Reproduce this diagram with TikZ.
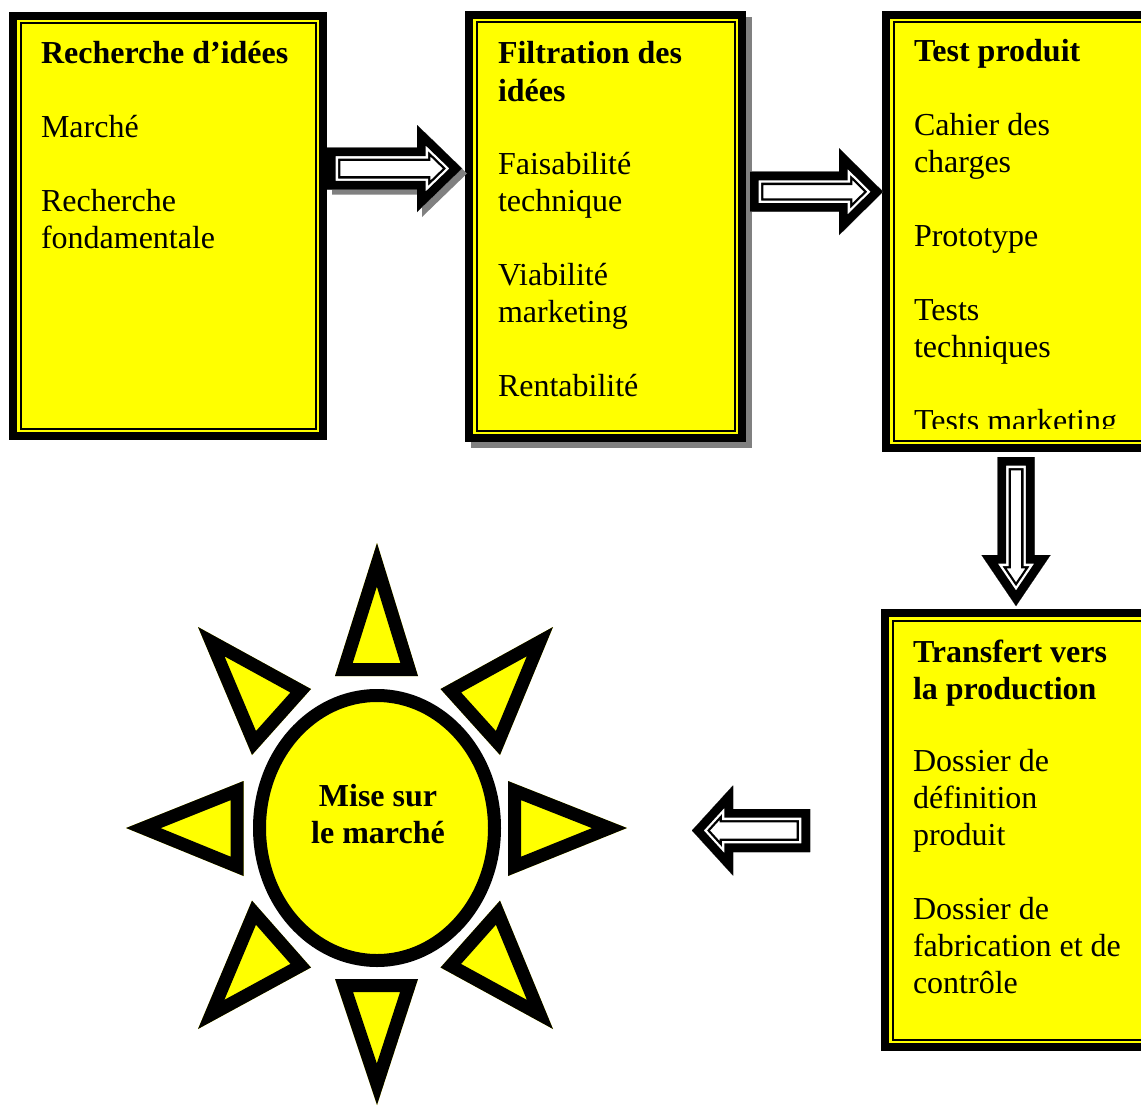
\documentclass[tikz,border=0pt]{standalone}
\usepackage{fontspec}
\setmainfont{Liberation Serif}
\usetikzlibrary{shapes.geometric}
\definecolor{shadowgray}{RGB}{128,128,128}
\definecolor{sunyellow}{RGB}{255,255,0}
% block arrow: black band, white gap, thin black line, white inside
\newcommand\blockarrow[1]{%
  \fill[black] #1;
  \begin{scope}
    \clip #1;
    \fill[white] #1;
    \draw[line width=26.6, line join=miter, black] #1;
    \draw[line width=22, line join=miter, white] #1;
    \draw[line width=17.4, line join=miter, black] #1;
  \end{scope}}
% sun ray: yellow triangle with a thick inner black outline
\newcommand\sunray[1]{%
  \fill[sunyellow] #1;
  \begin{scope}
    \clip #1;
    \draw[line width=26, line join=miter, miter limit=20, black] #1;
  \end{scope}}
% framed yellow box: name, x, y (top left), width, height
\newcommand\yframe[5]{%
  \node[frame, minimum width=#4, minimum height=#5] (#1) at (#2,#3) {};
  \fill[sunyellow] ([shift={(8,8)}]#1.north west) rectangle ([shift={(-8,-8)}]#1.south east);
  \draw[line width=2] ([shift={(11.5,11.5)}]#1.north west) rectangle ([shift={(-11.5,-11.5)}]#1.south east);}
\begin{document}
\begin{tikzpicture}[x=1pt,y=-1pt,
  frame/.style={fill=black, draw=none, inner sep=0, outer sep=0, anchor=north west},
  txt/.style={font=\fontsize{32}{37}\selectfont, anchor=base west, inner sep=0, outer sep=0},
  suntxt/.style={font=\fontsize{32}{37}\selectfont\bfseries, anchor=base, inner sep=0, outer sep=0}]
\clip (0,0) rectangle (1141,1108);
\fill[white] (0,0) rectangle (1141,1108);

% ---------- boxes ----------
\yframe{b1}{9}{12}{318}{428}
\fill[shadowgray] (471,17) rectangle (752,448);
\yframe{b2}{465}{11}{281}{431}
\yframe{b3}{882}{11}{280}{441}
\yframe{b4}{881}{609}{280}{442}

% ---------- box texts ----------
\foreach \y/\t [count=\i] in {64/{\textbf{Recherche d’idées}},137/Marché,211/Recherche,248/fondamentale}
  \node[txt] (ta\i) at (41,\y) {\t};
\foreach \y/\t [count=\i] in {64/{\textbf{Filtration des}},101/{\textbf{idées}},174/Faisabilité,211/technique,285/Viabilité,322/marketing,396/Rentabilité}
  \node[txt] (tb\i) at (498,\y) {\t};
\begin{scope}
  \clip (882,11) rectangle (1141,428);
  \foreach \y/\t [count=\i] in {62/{\textbf{Test produit}},135/Cahier des,172/charges,246/Prototype,320/Tests,357/techniques,431/Tests marketing}
    \node[txt] (tc\i) at (914,\y) {\t};
\end{scope}
\foreach \y/\t [count=\i] in {662/{\textbf{Transfert vers}},699/{\textbf{la production}},771/Dossier de,808/définition,845/produit,919/Dossier de,956/fabrication et de,993/contrôle}
  \node[txt] (td\i) at (913,\y) {\t};

% ---------- block arrows ----------
\fill[shadowgray] (332,152.5) -- (422,152.5) -- (422,130) -- (467,173.5) -- (422,217) -- (422,194.5) -- (332,194.5) -- cycle;
\blockarrow{(327,147.5) -- (417,147.5) -- (417,125) -- (462,168.5) -- (417,212) -- (417,189.5) -- (327,189.5) -- cycle}
\blockarrow{(750,171.7) -- (839,171.7) -- (839,148.2) -- (883,191.7) -- (839,235.2) -- (839,211.7) -- (750,211.7) -- cycle}
\blockarrow{(997.5,457) -- (1034.5,457) -- (1034.5,555) -- (1050.5,555) -- (1016,606) -- (981.5,555) -- (997.5,555) -- cycle}
\blockarrow{(810,809) -- (733,809) -- (733,785.5) -- (692,830.5) -- (733,875.5) -- (733,852) -- (810,852) -- cycle}

% ---------- sun ----------
\sunray{(377,543) -- (418,676) -- (335,676) -- cycle}
\sunray{(377,1105) -- (418,979) -- (335,979) -- cycle}
\sunray{(126,828) -- (243.5,781) -- (243.5,876) -- cycle}
\sunray{(627,828) -- (508,781) -- (508,876) -- cycle}
\sunray{(198,627) -- (311,689) -- (252,755) -- cycle}
\sunray{(553,627) -- (440.5,689) -- (500,755) -- cycle}
\sunray{(198,1029) -- (311,967.5) -- (252,900.6) -- cycle}
\sunray{(553,1029) -- (440.5,967.5) -- (500,900.6) -- cycle}
\node[ellipse, draw=black, line width=13, fill=sunyellow, inner sep=0,
      minimum width=235, minimum height=265] (sun) at (377,828) {};
\node[suntxt] (s1) at (378,806) {Mise sur};
\node[suntxt] (s2) at (378,843) {le marché};
\end{tikzpicture}
\end{document}
